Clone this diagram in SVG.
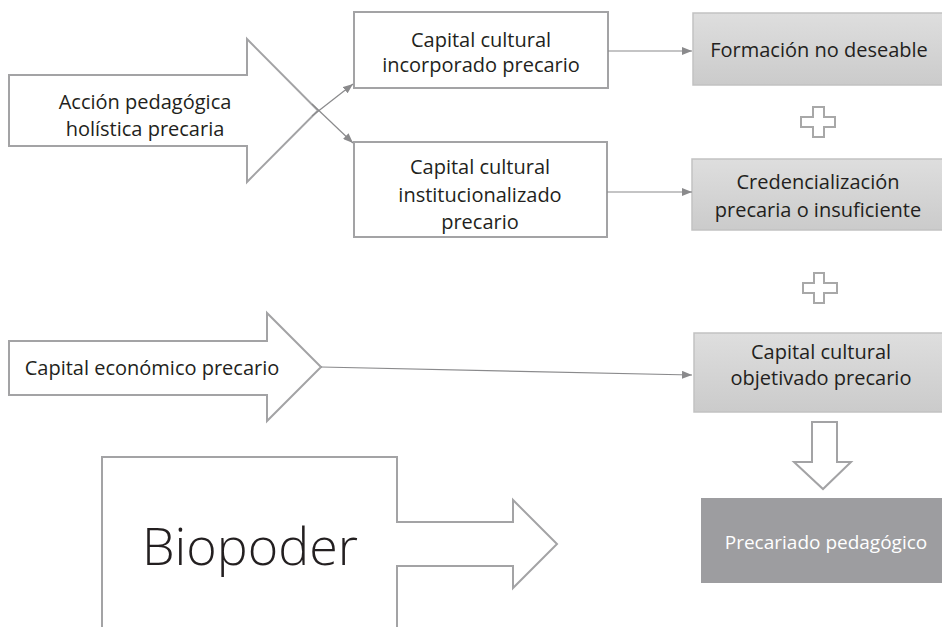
<svg xmlns="http://www.w3.org/2000/svg" width="942" height="627" viewBox="0 0 942 627">
<defs>
<linearGradient id="g" x1="0" y1="0" x2="0" y2="1">
<stop offset="0" stop-color="#dedede"/>
<stop offset="1" stop-color="#cbcbcb"/>
</linearGradient>
<marker id="ah" markerWidth="10" markerHeight="8" refX="10" refY="4" orient="auto" markerUnits="userSpaceOnUse">
<path d="M0,0 L10,4 L0,8 Z" fill="#8a8a8c"/>
</marker>
<style>
.t{font-family:"Open Sans","Noto Sans",sans-serif;font-size:20px;fill:#231f20;text-anchor:middle}
.shape{fill:#fff;stroke:#a3a3a5;stroke-width:2}
.box{fill:#fff;stroke:#a3a3a5;stroke-width:2}
.gbox{fill:url(#g);stroke:#c2c2c2;stroke-width:1.5}
.conn{stroke:#8a8a8c;stroke-width:1.2;fill:none}
.plus{fill:#fff;stroke:#a8a8a8;stroke-width:2}
</style>
</defs>
<rect width="942" height="627" fill="#fff"/>

<g id="accion">
<path class="shape" d="M9,75 H247 V39 L318,110.5 L247,182 V146 H9 Z"/>
<text class="t" x="145" y="109">Acción pedagógica</text>
<text class="t" x="145" y="136">holística precaria</text>
</g>

<g id="economico">
<path class="shape" d="M9,341 H267 V313 L321,367 L267,421 V395 H9 Z"/>
<text class="t" x="152" y="375">Capital económico precario</text>
</g>

<g id="biopoder">
<path class="shape" d="M102,640 V457 H397 V522 H513 V500 L557,544 L513,588 V566 H397 V640"/>
<text x="250" y="565" style="font-family:'Open Sans','Noto Sans',sans-serif;font-size:52px;font-weight:300;fill:#231f20;text-anchor:middle">Biopoder</text>
</g>

<g id="incorporado">
<rect class="box" x="354" y="12" width="254" height="76"/>
<text class="t" x="481" y="47">Capital cultural</text>
<text class="t" x="481" y="72">incorporado precario</text>
</g>

<g id="institucionalizado">
<rect class="box" x="354" y="142" width="253" height="95"/>
<text class="t" x="480" y="174">Capital cultural</text>
<text class="t" x="480" y="202">institucionalizado</text>
<text class="t" x="480" y="229">precario</text>
</g>

<g id="formacion">
<rect class="gbox" x="693" y="13" width="255" height="72"/>
<text class="t" x="819" y="57">Formación no deseable</text>
</g>

<g id="plus1">
<path class="plus" d="M813,107 H824 V117 H835 V127 H824 V137 H813 V127 H801 V117 H813 Z"/>
</g>

<g id="credencializacion">
<rect class="gbox" x="692" y="159" width="256" height="71"/>
<text class="t" x="818" y="189">Credencialización</text>
<text class="t" x="818" y="217">precaria o insuficiente</text>
</g>

<g id="plus2">
<path class="plus" d="M814,273 H824 V283 H837 V293 H824 V303 H814 V293 H803 V283 H814 Z"/>
</g>

<g id="objetivado">
<rect class="gbox" x="694" y="333" width="254" height="79"/>
<text class="t" x="821" y="359">Capital cultural</text>
<text class="t" x="821" y="385">objetivado precario</text>
</g>

<g id="flecha-abajo">
<path class="shape" d="M812,422 H837 V462 H851 L823,489 L794,462 H812 Z"/>
</g>

<g id="precariado">
<rect x="701" y="498" width="247" height="85" fill="#9d9da0"/>
<text class="t" x="826" y="549" style="fill:#ffffff;font-size:19px">Precariado pedagógico</text>
</g>

<g id="connectors">
<line class="conn" x1="312" y1="116" x2="353" y2="84" marker-end="url(#ah)"/>
<line class="conn" x1="312" y1="104" x2="353" y2="143" marker-end="url(#ah)"/>
<line class="conn" x1="608" y1="51" x2="692" y2="51" marker-end="url(#ah)"/>
<line class="conn" x1="607" y1="192" x2="692" y2="192" marker-end="url(#ah)"/>
<line class="conn" x1="321" y1="367" x2="692" y2="375" marker-end="url(#ah)"/>
</g>
</svg>
